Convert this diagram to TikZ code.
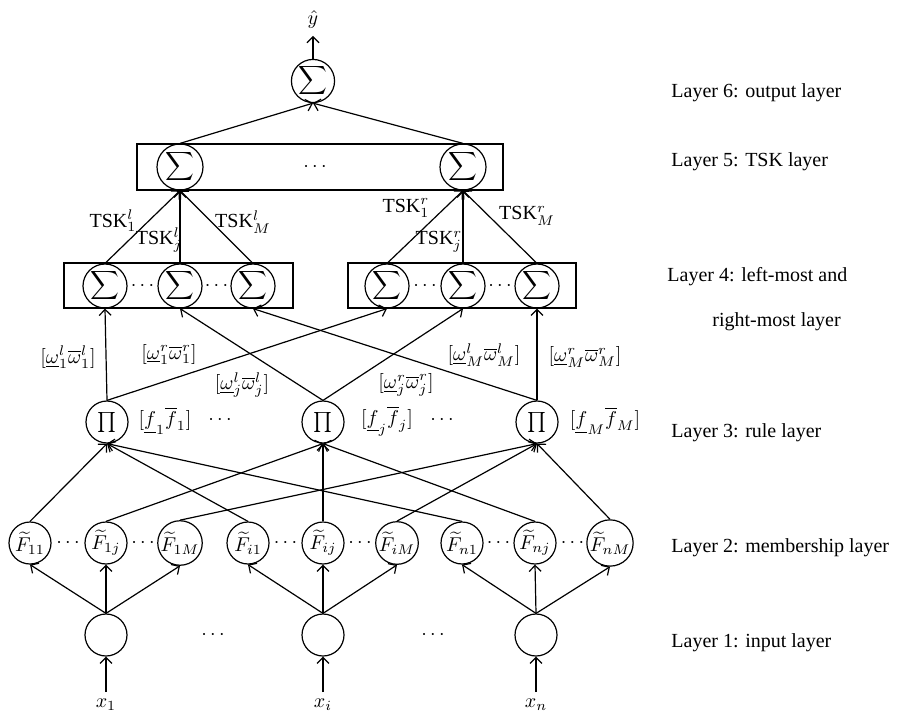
\documentclass[tikz,border=0pt]{standalone}
\usepackage{fontspec}
\setmainfont{Liberation Serif}
\usetikzlibrary{arrows.meta}
\begin{document}
\begin{tikzpicture}[x=0.5pt,y=-0.5pt,
  every node/.style={font=\fontsize{10}{12}\selectfont},
  unit/.style={draw, circle, inner sep=0pt, minimum size=21pt, line width=0.6pt},
  conn/.style={-{Straight Barb[length=3pt,width=6pt]}, line width=0.6pt},
  layerbox/.style={draw, rectangle, inner sep=0pt, line width=0.6pt},
  lbl/.style={inner sep=1pt},
  ltxt/.style={anchor=west, inner sep=0pt}]
\useasboundingbox (0,0) rectangle (898,716);

% ---- layer 6: output
\node[unit, minimum size=20.5pt] (out) at (313,81) {$\displaystyle\sum$};
\node (yhat) at (313,20) {$\hat{y}$};
\draw[conn] (out.north) -- (yhat.south);

% ---- layer 5: TSK layer
\node[layerbox, minimum width=183pt, minimum height=23pt] (box5) at (320,167) {};
\node[unit, minimum size=23pt] (s5l) at (180,167) {$\displaystyle\sum$};
\node[unit, minimum size=23pt] (s5r) at (463,167) {$\displaystyle\sum$};
\node (d5) at (315,167) {$\cdots$};
\draw[conn] (s5l.north) -- (out.south);
\draw[conn] (s5r.north) -- (out.south);

% ---- layer 4: left-most and right-most layer
\node[layerbox, minimum width=114.5pt, minimum height=22.5pt] (box4l) at (178.5,285.5) {};
\node[layerbox, minimum width=114pt, minimum height=22.5pt] (box4r) at (462,285.5) {};
\foreach \n/\x in {L1/105, L2/180, L3/253, R1/387, R2/463, R3/537}
  \node[unit, minimum size=22pt] (\n) at (\x,286) {$\displaystyle\sum$};
\foreach \n/\x in {dl1/142.5, dl2/216.5, dr1/425, dr2/500}
  \node[inner sep=0pt] (\n) at (\x,286) {$\cdots$};

\foreach \n in {L1,L2,L3} \draw[conn] (\n.north) -- (s5l.south);
\foreach \n in {R1,R2,R3} \draw[conn] (\n.north) -- (s5r.south);

\node[lbl] (tl1) at (113,221) {TSK$^{l}_{1}$};
\node[lbl] (tlj) at (159,240) {TSK$^{l}_{j}$};
\node[lbl] (tlM) at (243,222) {TSK$^{l}_{M}$};
\node[lbl] (tr1) at (406,208) {TSK$^{r}_{1}$};
\node[lbl] (trj) at (439,242) {TSK$^{r}_{j}$};
\node[lbl] (trM) at (527,216) {TSK$^{r}_{M}$};

% ---- layer 3: rule layer
\node[unit] (P1) at (107,422) {$\prod$};
\node[unit] (P2) at (323,422) {$\prod$};
\node[unit] (P3) at (537,422) {$\prod$};
\node[lbl] (f1) at (165,421) {$[\underline{f}_{1}\overline{f}_{1}]$};
\node[lbl] (fj) at (387,421) {$[\underline{f}_{j}\overline{f}_{j}]$};
\node[lbl] (fM) at (605,421) {$[\underline{f}_{M}\overline{f}_{M}]$};
\node (d3a) at (220,420) {$\cdots$};
\node (d3b) at (442,420) {$\cdots$};

\draw[conn] (P1.north) -- (L1.south);
\draw[conn] (P1.north) -- (R1.south);
\draw[conn] (P2.north) -- (L2.south);
\draw[conn] (P2.north) -- (R2.south);
\draw[conn] (P3.north) -- (L3.south);
\draw[conn] (P3.north) -- (R3.south);

\node[lbl] (wl1) at (68,357) {$[\underline{\omega}^{l}_{1}\overline{\omega}^{l}_{1}]$};
\node[lbl] (wr1) at (169,354) {$[\underline{\omega}^{r}_{1}\overline{\omega}^{r}_{1}]$};
\node[lbl] (wlj) at (242,385) {$[\underline{\omega}^{l}_{j}\overline{\omega}^{l}_{j}]$};
\node[lbl] (wrj) at (406,385) {$[\underline{\omega}^{r}_{j}\overline{\omega}^{r}_{j}]$};
\node[lbl] (wlM) at (484,355) {$[\underline{\omega}^{l}_{M}\overline{\omega}^{l}_{M}]$};
\node[lbl] (wrM) at (585,357) {$[\underline{\omega}^{r}_{M}\overline{\omega}^{r}_{M}]$};

% ---- layer 2: membership layer
\foreach \n/\x/\s in {F11/30/{11}, F1j/106/{1j}, F1M/180/{1M},
                      Fi1/248/{i1}, Fij/323/{ij}, FiM/397/{iM},
                      Fn1/462/{n1}, Fnj/535/{nj}, FnM/610/{nM}}
  \node[unit] (\n) at (\x,543) {$\widetilde{F}_{\s}$};
\foreach \n/\x in {d2a/68, d2b/143, d2c/285.5, d2d/360, d2e/498.5, d2f/572.5}
  \node[inner sep=0pt] (\n) at (\x,543) {$\cdots$};

\foreach \a in {F11,Fi1,Fn1} \draw[conn] (\a.north) -- (P1.south);
\foreach \a in {F1j,Fij,Fnj} \draw[conn] (\a.north) -- (P2.south);
\foreach \a in {F1M,FiM,FnM} \draw[conn] (\a.north) -- (P3.south);

% ---- layer 1: input layer
\node[unit] (I1) at (106,635) {};
\node[unit] (I2) at (323,635) {};
\node[unit] (I3) at (536,635) {};
\node (d1a) at (213,635) {$\cdots$};
\node (d1b) at (433,635) {$\cdots$};

\foreach \a in {F11,F1j,F1M} \draw[conn] (I1.north) -- (\a.south);
\foreach \a in {Fi1,Fij,FiM} \draw[conn] (I2.north) -- (\a.south);
\foreach \a in {Fn1,Fnj,FnM} \draw[conn] (I3.north) -- (\a.south);

\node (x1) at (106,705) {$x_{1}$};
\node (xi) at (323,705) {$x_{i}$};
\node (xn) at (536,705) {$x_{n}$};
\draw[conn] (x1.north) -- (I1.south);
\draw[conn] (xi.north) -- (I2.south);
\draw[conn] (xn.north) -- (I3.south);

% ---- layer captions
\node[ltxt] (c6) at (671,93) {Layer 6: output layer};
\node[ltxt] (c5) at (671,162) {Layer 5: TSK layer};
\node[ltxt] (c4) at (667,277) {Layer 4: left-most and};
\node[ltxt] (c4b) at (712,322) {right-most layer};
\node[ltxt] (c3) at (671,433) {Layer 3: rule layer};
\node[ltxt] (c2) at (671,548) {Layer 2: membership layer};
\node[ltxt] (c1) at (671,643) {Layer 1: input layer};
\end{tikzpicture}
\end{document}
